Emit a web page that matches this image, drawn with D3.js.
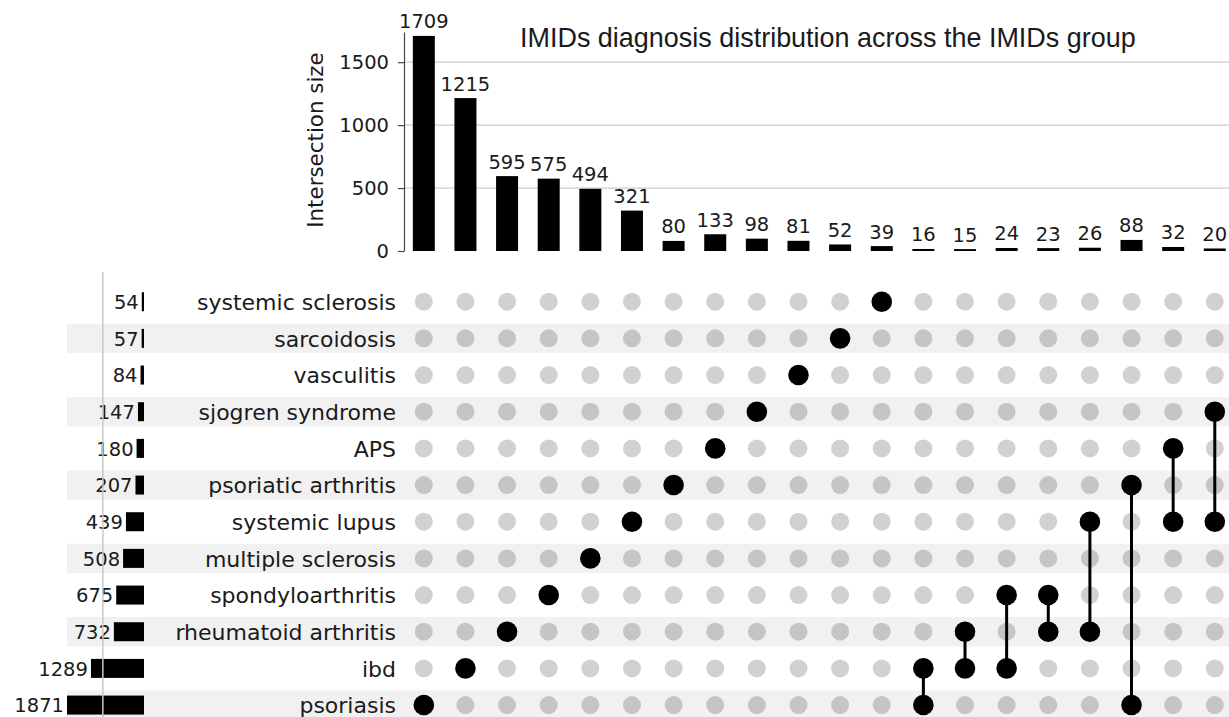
<!DOCTYPE html>
<html>
<head>
<meta charset="utf-8">
<script src="https://cdn.jsdelivr.net/npm/d3@7"></script>
<style>
  html, body { margin: 0; padding: 0; background: #fff; }
  svg { display: block; }
  text { font-family: "DejaVu Sans", sans-serif; fill: #1a1a1a; }
</style>
</head>
<body>
<svg id="chart" width="1229" height="717"></svg>
<script>
// ---- data ----
const sets = ["systemic sclerosis", "sarcoidosis", "vasculitis", "sjogren syndrome", "APS",
  "psoriatic arthritis", "systemic lupus", "multiple sclerosis", "spondyloarthritis",
  "rheumatoid arthritis", "ibd", "psoriasis"];
const setSizes = [54, 57, 84, 147, 180, 207, 439, 508, 675, 732, 1289, 1871];
const intersectionSizes = [1709, 1215, 595, 575, 494, 321, 80, 133, 98, 81, 52, 39, 16, 15, 24, 23, 26, 88, 32, 20];
const intersectionMembers = [
  ["psoriasis"], ["ibd"], ["rheumatoid arthritis"], ["spondyloarthritis"], ["multiple sclerosis"],
  ["systemic lupus"], ["psoriatic arthritis"], ["APS"], ["sjogren syndrome"], ["vasculitis"],
  ["sarcoidosis"], ["systemic sclerosis"], ["ibd", "psoriasis"], ["rheumatoid arthritis", "ibd"],
  ["spondyloarthritis", "ibd"], ["spondyloarthritis", "rheumatoid arthritis"],
  ["systemic lupus", "rheumatoid arthritis"], ["psoriatic arthritis", "psoriasis"],
  ["APS", "systemic lupus"], ["sjogren syndrome", "systemic lupus"]];
const yTicks = [0, 500, 1000, 1500];
const setGridTicks = [1000];
const titleText = "IMIDs diagnosis distribution across the IMIDs group";
const yLabel = "Intersection size";

// ---- scales ----
const svg = d3.select("#chart");
const cols = d3.range(intersectionSizes.length);
const xCol = d3.scaleBand().domain(cols).range([403, 403 + 20 * 41.63]).paddingInner(0).paddingOuter(0);
const colX = i => xCol(i) + xCol.bandwidth() / 2;
const barW = 22;

const yTop = d3.scaleLinear().domain([0, 1740]).range([251, 32]);
const yRow = d3.scaleBand().domain(sets).range([301.7 - 18.335, 301.7 + 11.5 * 36.67]);
const rowY = s => yRow(s) + yRow.bandwidth() / 2;
const xSet = d3.scaleLinear().domain([0, 1871]).range([144, 67]);

const numFont = 19.5;
const labelFont = 22;

// ---- row shading ----
svg.append("g").selectAll("rect")
  .data(sets.filter((s, i) => i % 2 === 1))
  .join("rect")
  .attr("x", 67)
  .attr("width", 1229 - 67)
  .attr("y", s => rowY(s) - 14.7)
  .attr("height", 29.4)
  .attr("fill", "#f1f1f1");

// ---- top panel gridlines ----
svg.append("g").selectAll("line")
  .data(yTicks.filter(t => t > 0))
  .join("line")
  .attr("x1", 404).attr("x2", 1229)
  .attr("y1", d => yTop(d)).attr("y2", d => yTop(d))
  .attr("stroke", "#cccccc").attr("stroke-width", 1.2);

// ---- intersection bars ----
svg.append("g").selectAll("rect")
  .data(cols)
  .join("rect")
  .attr("x", i => colX(i) - barW / 2)
  .attr("width", barW)
  .attr("y", i => yTop(intersectionSizes[i]))
  .attr("height", i => yTop(0) - yTop(intersectionSizes[i]))
  .attr("fill", "#000");

svg.append("g").selectAll("text")
  .data(cols)
  .join("text")
  .attr("x", i => colX(i))
  .attr("y", i => yTop(intersectionSizes[i]) - 7.5)
  .attr("text-anchor", "middle")
  .attr("font-size", numFont)
  .text(i => intersectionSizes[i]);

// ---- y axis ----
const yAxis = d3.axisLeft(yTop).tickValues(yTicks).tickFormat(d3.format("d"))
  .tickSize(6).tickPadding(9).tickSizeOuter(0);
const gy = svg.append("g").attr("transform", "translate(404,0)").call(yAxis);
gy.select(".domain").attr("stroke", "#444").attr("stroke-width", 1.2);
gy.selectAll(".tick line").attr("stroke", "#444").attr("stroke-width", 1.2);
gy.selectAll(".tick text").attr("font-size", numFont).attr("font-family", "DejaVu Sans").attr("fill", "#1a1a1a");

svg.append("text")
  .attr("transform", "translate(323,140) rotate(-90)")
  .attr("text-anchor", "middle")
  .attr("font-size", 21.4)
  .text(yLabel);

// ---- title ----
const title = svg.append("text")
  .attr("x", 520).attr("y", 47)
  .attr("font-size", 20)
  .style("font-family", "'Liberation Sans', Arial, sans-serif")
  .text(titleText);
const tl = title.node().getComputedTextLength();
title.attr("font-size", 20 * 616 / tl);

// ---- set size bars ----
svg.append("g").selectAll("rect")
  .data(sets)
  .join("rect")
  .attr("x", (s, i) => xSet(setSizes[i]))
  .attr("width", (s, i) => xSet(0) - xSet(setSizes[i]))
  .attr("y", s => rowY(s) - 9.5)
  .attr("height", 19)
  .attr("fill", "#000");

svg.append("g").selectAll("text")
  .data(sets)
  .join("text")
  .attr("x", (s, i) => xSet(setSizes[i]) - 3)
  .attr("y", s => rowY(s) + 7.2)
  .attr("text-anchor", "end")
  .attr("font-size", numFont)
  .text((s, i) => setSizes[i]);

// gridline of set-size panel (drawn above bars)
svg.append("g").selectAll("line")
  .data(setGridTicks)
  .join("line")
  .attr("x1", d => xSet(d)).attr("x2", d => xSet(d))
  .attr("y1", 272).attr("y2", 717)
  .attr("stroke", "#c8c8c8").attr("stroke-width", 1.5);

// ---- set labels ----
svg.append("g").selectAll("text")
  .data(sets)
  .join("text")
  .attr("x", 396)
  .attr("y", s => rowY(s) + 8.3)
  .attr("text-anchor", "end")
  .attr("font-size", labelFont)
  .text(s => s);

// ---- matrix ----
const gm = svg.append("g");
const cells = [];
cols.forEach(i => sets.forEach(s => cells.push({ i, s, on: intersectionMembers[i].includes(s) })));
gm.selectAll("circle.off")
  .data(cells.filter(c => !c.on))
  .join("circle")
  .attr("class", "off")
  .attr("cx", c => colX(c.i))
  .attr("cy", c => rowY(c.s))
  .attr("r", 9)
  .attr("fill", "#000")
  .attr("fill-opacity", 0.18);

gm.selectAll("line")
  .data(cols.filter(i => intersectionMembers[i].length > 1))
  .join("line")
  .attr("x1", i => colX(i)).attr("x2", i => colX(i))
  .attr("y1", i => d3.min(intersectionMembers[i], rowY))
  .attr("y2", i => d3.max(intersectionMembers[i], rowY))
  .attr("stroke", "#000").attr("stroke-width", 3);

gm.selectAll("circle.on")
  .data(cells.filter(c => c.on))
  .join("circle")
  .attr("class", "on")
  .attr("cx", c => colX(c.i))
  .attr("cy", c => rowY(c.s))
  .attr("r", 10.3)
  .attr("fill", "#000");
</script>
</body>
</html>
